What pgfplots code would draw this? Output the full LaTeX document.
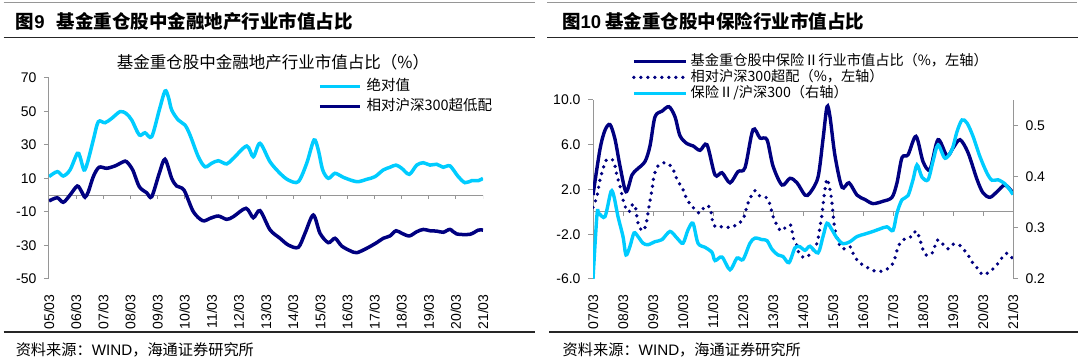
\documentclass[border=0pt]{standalone}
\usepackage{fontspec}
\setmainfont{Liberation Sans}
\newfontfamily\cjk{Noto Sans CJK SC}
\usepackage{pgfplots}
\pgfplotsset{compat=1.18}
\definecolor{navy}{RGB}{0,0,128}
\definecolor{skyc}{RGB}{0,204,255}
\definecolor{axgray}{RGB}{150,150,150}
\definecolor{rulegray}{RGB}{150,150,150}
\pgfplotsset{
  base/.style={scale only axis, clip=true,
    /pgf/number format/assume math mode=true,
    tick label style={font=\fontsize{14}{16}\selectfont, text=black},
    axis line style={axgray, line width=1pt},
    tick style={axgray, line width=1pt},
    major tick length=5pt, tick align=outside,
    xtick style={draw=none},
    xticklabel style={rotate=90, anchor=east},
    xticklabel shift=7pt,
    legend cell align=left,
  },
}
\begin{document}
\begin{tikzpicture}
\path[use as bounding box] (0pt,0pt) rectangle (1080pt,358pt);
% ---------- left panel frame ----------
\draw[rulegray, line width=1pt] (3.5pt,355.2pt) -- (535pt,355.2pt);
\node[anchor=west, inner sep=0pt, font=\fontsize{18.5}{20}\selectfont\bfseries] at (15.6pt,337pt) {{\cjk 图}9\hspace{12pt}{\cjk 基金重仓股中金融地产行业市值占比}};
\draw[black!85, line width=1.5pt] (3.5pt,320.6pt) -- (535pt,320.6pt);
\node[inner sep=0pt, font=\cjk\fontsize{16.5}{18}\selectfont] at (273pt,296pt) {基金重仓股中金融地产行业市值占比（\%）};
\draw[black!85, line width=1.5pt] (3.5pt,26pt) -- (535pt,26pt);
\node[anchor=west, inner sep=0pt, font=\fontsize{15.2}{17}\selectfont] at (15.6pt,8.4pt) {{\cjk 资料来源：}WIND{\cjk ，海通证券研究所}};
% ---------- right panel frame ----------
\draw[rulegray, line width=1pt] (547pt,355.2pt) -- (1077pt,355.2pt);
\node[anchor=west, inner sep=0pt, font=\fontsize{18.5}{20}\selectfont\bfseries] at (562pt,337pt) {{\cjk 图}10\hspace{4pt}{\cjk 基金重仓股中保险行业市值占比}};
\draw[black!85, line width=1.5pt] (547pt,320.6pt) -- (1078pt,320.6pt);
\draw[black!85, line width=1.5pt] (549pt,26pt) -- (1078pt,26pt);
\node[anchor=west, inner sep=0pt, font=\fontsize{15.2}{17}\selectfont] at (562.5pt,8.4pt) {{\cjk 资料来源：}WIND{\cjk ，海通证券研究所}};

% ---------- left chart ----------
\begin{axis}[base, at={(49pt,79pt)}, anchor=south west, width=434pt, height=201pt,
  xmin=0, xmax=16, ymin=-50, ymax=70,
  axis lines*=left, x axis line style={draw=none},
  xtick={0,...,16},
  xticklabels={05/03,06/03,07/03,08/03,09/03,10/03,11/03,12/03,13/03,14/03,15/03,16/03,17/03,18/03,19/03,20/03,21/03},
  ytick={-50,-30,...,70}, yticklabel shift=4pt,
  legend style={draw=none, fill=none, at={(0.620,0.995)}, anchor=north west, inner sep=0pt, outer sep=0pt, row sep=5pt, column sep=5pt,
    nodes={inner sep=0pt, text height=11.5pt, text depth=3.5pt, font=\cjk\fontsize{14.5}{16}\selectfont}},
  legend image code/.code={\draw[#1] (0pt,0pt) -- (40pt,0pt);},
]
\draw[axgray, line width=1pt] (axis cs:0,0) -- (axis cs:16,0);
\pgfplotsinvokeforeach{1,...,16}{\draw[axgray, line width=1pt] (axis cs:#1,0) -- ++(0pt,-4pt);}
\addplot[skyc, line width=3.5pt, smooth, tension=0.5] coordinates {
(0,11.1) (0.306,14.1) (0.527,11.5) (0.774,15.1) (1.043,25.0) (1.143,23.0) (1.290,15.1) (1.412,19.1) (1.633,33.0) (1.818,43.9) (2.065,43.3) (2.312,45.9) (2.618,49.9) (2.839,48.9) (3.049,44.9) (3.329,36.0) (3.539,37.3) (3.786,35.0) (4.066,50.9) (4.276,62.2) (4.398,58.8) (4.523,50.9) (4.767,44.9) (5.014,41.9) (5.198,36.0) (5.504,23.0) (5.751,17.0) (5.998,19.1) (6.242,20.6) (6.551,18.7) (6.795,22.0) (7.289,29.4) (7.532,23.0) (7.779,31.0) (8.147,20.0) (8.516,13.1) (8.822,9.1) (9.191,8.1) (9.501,19.1) (9.770,33.0) (9.928,27.0) (10.090,15.1) (10.297,10.1) (10.544,13.1) (10.850,10.7) (11.344,8.1) (11.712,9.5) (12.018,11.1) (12.324,15.1) (12.571,16.7) (12.793,18.0) (13.003,16.1) (13.283,12.5) (13.556,18.0) (13.799,19.4) (14.046,18.0) (14.293,18.5) (14.536,16.7) (14.783,17.5) (15.089,11.1) (15.336,7.5) (15.583,8.7) (15.827,8.7) (16.0,10.1)
};
\addlegendentry{绝对值}
\addplot[navy, line width=3.5pt, smooth, tension=0.5] coordinates {
(0,-3.4) (0.306,-1.5) (0.527,-4.2) (0.774,0.1) (1.043,5.5) (1.204,2.1) (1.327,-1.2) (1.450,2.1) (1.633,11.1) (1.843,16.7) (2.127,16.1) (2.433,17.5) (2.740,20.0) (2.865,20.0) (3.086,15.1) (3.329,5.1) (3.601,1.5) (3.786,-0.9) (4.066,13.1) (4.276,21.5) (4.523,10.1) (4.707,5.5) (4.977,3.1) (5.320,-9.8) (5.667,-15.2) (5.936,-13.8) (6.242,-12.4) (6.551,-14.4) (6.795,-12.8) (7.263,-7.8) (7.532,-13.4) (7.779,-9.2) (8.147,-20.6) (8.516,-25.7) (8.822,-29.7) (9.191,-31.1) (9.438,-22.7) (9.744,-11.8) (9.991,-22.7) (10.297,-28.3) (10.544,-25.7) (10.790,-30.3) (11.097,-33.1) (11.344,-34.3) (11.712,-31.7) (12.081,-28.3) (12.324,-25.7) (12.571,-24.3) (12.793,-21.2) (13.003,-22.7) (13.283,-24.3) (13.556,-21.8) (13.799,-20.4) (14.046,-21.2) (14.293,-21.4) (14.536,-22.1) (14.783,-20.4) (15.029,-23.1) (15.520,-23.3) (15.827,-20.8) (16.0,-20.8)
};
\addlegendentry{相对沪深300超低配}
\end{axis}

% ---------- right chart, left axis ----------
\begin{axis}[base, at={(593pt,79pt)}, anchor=south west, width=420pt, height=179pt,
  xmin=0, xmax=14, ymin=-6, ymax=10,
  axis y line*=left, axis x line*=bottom, x axis line style={draw=none},
  xtick={0,...,14},
  xticklabels={07/03,08/03,09/03,10/03,11/03,12/03,13/03,14/03,15/03,16/03,17/03,18/03,19/03,20/03,21/03},
  ytick={-6,-2,2,6,10}, yticklabel shift=4pt,
  yticklabel style={/pgf/number format/.cd, fixed, fixed zerofill, precision=1},
]
\draw[axgray, line width=1pt] (axis cs:0,0) -- (axis cs:14,0);
\pgfplotsinvokeforeach{1,...,14}{\draw[axgray, line width=1pt] (axis cs:#1,0) -- ++(0pt,-4pt);}
\addplot[navy, line width=3.4pt, smooth, tension=0.5] coordinates {
(0,1.5) (0.233,5.6) (0.400,7.3) (0.567,7.8) (0.733,6.5) (0.900,4.1) (1.100,1.8) (1.300,3.3) (1.467,3.8) (1.733,4.5) (1.900,5.9) (2.067,8.5) (2.300,9.0) (2.533,9.4) (2.733,8.5) (2.900,6.8) (3.133,6.1) (3.333,5.9) (3.567,5.5) (3.800,6.0) (4.067,3.3) (4.300,3.5) (4.567,2.6) (4.833,3.6) (5.067,3.95) (5.333,7.35) (5.567,6.6) (5.800,6.45) (6.000,4.1) (6.300,2.4) (6.567,3.0) (6.800,2.6) (7.067,1.5) (7.233,1.7) (7.500,3.1) (7.667,6.5) (7.800,9.4) (7.900,8.5) (8.067,5.0) (8.300,2.2) (8.533,2.6) (8.800,1.5) (9.067,1.1) (9.333,0.74) (9.667,0.95) (9.967,1.3) (10.133,2.6) (10.300,4.85) (10.500,5.1) (10.767,6.75) (11.000,4.5) (11.233,3.8) (11.500,6.45) (11.800,5.0) (12.000,5.7) (12.233,6.45) (12.500,5.3) (12.800,2.9) (13.000,1.7) (13.233,1.3) (13.467,1.8) (13.733,2.4) (14.000,1.7)
};
\addplot[navy, line width=3.7pt, line cap=round, dash pattern=on 0pt off 7pt, smooth, tension=0.5] coordinates {
(0,0.4) (0.133,1.4) (0.233,2.9) (0.333,3.8) (0.433,4.6) (0.633,4.7) (0.733,4.1) (0.8,3.2) (0.9,2.3) (1.0,1.1) (1.1,0.3) (1.2,0.0) (1.3,0.6) (1.4,0.6) (1.467,-0.5) (1.533,-1.3) (1.667,-1.7) (1.767,-1.1) (1.867,0.5) (1.967,2.0) (2.033,3.2) (2.167,4.1) (2.4,4.4) (2.633,4.0) (2.8,2.9) (3.0,2.0) (3.133,1.1) (3.3,0.5) (3.467,0.05) (3.567,-0.1) (3.733,0.5) (3.9,0.4) (4.0,-1.0) (4.133,-1.4) (4.333,-1.3) (4.6,-1.4) (4.8,-1.1) (5.0,-0.7) (5.133,0.5) (5.233,1.2) (5.4,1.9) (5.567,1.4) (5.8,1.25) (5.9,0.65) (6.0,-0.4) (6.133,-1.2) (6.267,-1.7) (6.433,-1.35) (6.6,-1.2) (6.667,-2.3) (6.8,-3.0) (6.867,-3.7) (7.033,-4.1) (7.233,-3.8) (7.467,-2.8) (7.567,-1.3) (7.633,-0.25) (7.683,0.95) (7.733,2.0) (7.8,2.95) (7.867,2.4) (7.933,1.5) (8.0,-0.1) (8.05,-1.3) (8.133,-2.3) (8.267,-3.2) (8.4,-3.3) (8.567,-3.1) (8.667,-3.7) (8.8,-4.3) (8.967,-4.7) (9.167,-5.0) (9.4,-5.3) (9.633,-5.3) (9.867,-5.0) (10.0,-4.6) (10.1,-3.8) (10.167,-3.1) (10.3,-2.6) (10.467,-2.3) (10.633,-2.2) (10.767,-1.7) (10.867,-2.2) (10.933,-2.8) (11.0,-3.4) (11.133,-3.9) (11.333,-3.6) (11.4,-3.0) (11.5,-2.5) (11.667,-2.9) (11.833,-3.3) (12.0,-2.9) (12.233,-3.0) (12.4,-3.5) (12.533,-4.0) (12.667,-4.6) (12.833,-5.1) (12.967,-5.6) (13.133,-5.5) (13.333,-5.1) (13.5,-4.6) (13.633,-4.1) (13.8,-3.7) (13.967,-4.1)
};
\end{axis}

% ---------- right chart, right axis ----------
\begin{axis}[base, at={(593pt,79pt)}, anchor=south west, width=420pt, height=179pt,
  xmin=0, xmax=14, ymin=0.2, ymax=0.55,
  axis y line*=right, axis x line=none,
  ytick={0.2,0.3,0.4,0.5}, yticklabel shift=4pt,
  yticklabel style={/pgf/number format/.cd, fixed, precision=1},
  legend style={draw=none, fill=none, at={(0.0929,1.255)}, anchor=north west, inner sep=0pt, outer sep=0pt, row sep=2pt, column sep=3pt,
    nodes={inner sep=0pt, text height=11pt, text depth=3pt, font=\cjk\fontsize{14.2}{16}\selectfont}},
  legend image code/.code={\draw[#1] (0pt,0pt) -- (52pt,0pt);},
]
\addlegendimage{navy, line width=3.4pt}
\addlegendentry{基金重仓股中保险Ⅱ行业市值占比（\%，左轴）}
\addlegendimage{navy, line width=3.7pt, line cap=round, dash pattern=on 0pt off 7pt}
\addlegendentry{相对沪深300超配（\%，左轴）}
\addplot[skyc, line width=3.4pt, smooth, tension=0.5] coordinates {
(0,0.2) (0.133,0.326) (0.2,0.328) (0.4,0.322) (0.6,0.371) (0.7,0.361) (0.833,0.322) (1.0,0.283) (1.1,0.247) (1.233,0.264) (1.367,0.290) (1.5,0.283) (1.667,0.270) (1.833,0.267) (2.067,0.273) (2.3,0.277) (2.567,0.293) (2.8,0.280) (3.0,0.270) (3.167,0.296) (3.333,0.309) (3.5,0.270) (3.733,0.262) (3.967,0.252) (4.067,0.236) (4.3,0.243) (4.567,0.218) (4.8,0.241) (5.0,0.238) (5.233,0.270) (5.4,0.280) (5.633,0.277) (5.8,0.275) (5.967,0.258) (6.167,0.247) (6.333,0.244) (6.533,0.232) (6.733,0.261) (6.9,0.263) (7.067,0.256) (7.233,0.264) (7.5,0.251) (7.667,0.283) (7.8,0.309) (7.967,0.296) (8.133,0.280) (8.333,0.269) (8.567,0.273) (8.8,0.283) (9.067,0.288) (9.333,0.293) (9.567,0.298) (9.8,0.302) (10.0,0.295) (10.133,0.329) (10.3,0.355) (10.5,0.363) (10.667,0.394) (10.8,0.423) (10.967,0.399) (11.167,0.394) (11.333,0.430) (11.5,0.462) (11.733,0.436) (11.967,0.453) (12.133,0.488) (12.3,0.511) (12.467,0.505) (12.667,0.479) (12.9,0.439) (13.133,0.407) (13.3,0.393) (13.5,0.394) (13.733,0.386) (13.9,0.374) (14,0.365)
};
\addlegendentry{保险Ⅱ/沪深300（右轴）}
\end{axis}
\end{tikzpicture}
\end{document}
